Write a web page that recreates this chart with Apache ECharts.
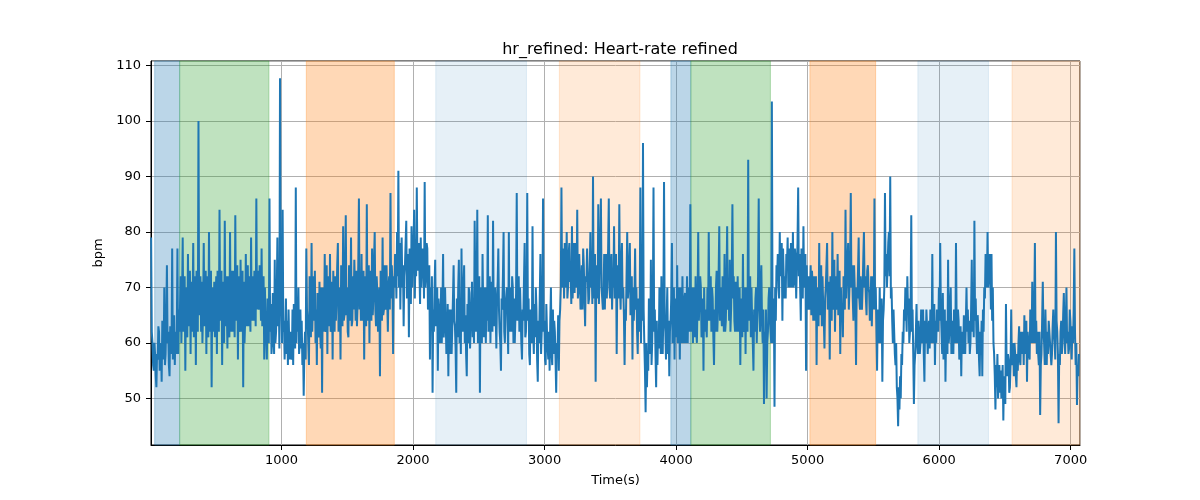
<!DOCTYPE html>
<html>
<head>
<meta charset="utf-8">
<script src="https://cdn.jsdelivr.net/npm/echarts@6/dist/echarts.min.js"></script>
<style>html,body{margin:0;padding:0;background:#fff}#chart{width:1200px;height:500px}</style>
</head>
<body>
<div id="chart"></div>
<script>
// ---- data ----
const titleText = 'hr_refined: Heart-rate refined';
const xAxisLabel = 'Time(s)';
const yAxisLabel = 'bpm';
const startTime = 8;     // seconds of first sample
const stepSeconds = 5;   // sampling step of the values below
const hrValues = [
  // 8 .. 888 s
  79,62,60,56, 55,60,58,54, 52,58,57,63, 62,55,56,60, 53,64,61,57, 70,56,58,64, 74,60,62,56, 54,63,60,58, 77,57,63,65, 56,62,58,61,
  77,58,66,62, 62,72,60,68, 79,62,67,72, 55,70,64,61, 76,63,69,73, 58,71,62,66, 78,61,66,72, 56,73,70,62, 100,65,68,72, 62,71,60,66,
  78,63,70,73, 58,72,64,61, 80,62,66,73, 52,70,62,65, 71,61,67,72, 58,73,65,62, 84,64,70,73, 56,71,63,60, 82,63,72,67, 59,72,64,61,
  80,62,70,73, 62,73,66,61, 83,64,71,74, 57,72,63,62, 75,62,68,73, 52,71,60,64, 76,63,70,74, 63,72,67,62, 79,64,72,70, 64,73,69,63,
  86,66,73,70, 66,74,70,64, 77,63,68,72, 57,70,64,61,
  // 888 .. 1808 s
  57,68,66,60, 86,62,67,58, 60,69,64,58, 75,60,62,68, 79,63,70,59, 107.7,68,66,60, 84,62,64,57, 62,68,58,64, 56,66,60,57, 62,58,57,66,
  56,67,64,59, 88,60,68,62, 70,58,60,66, 59,64,56,60, 50.5,58,62,57, 77,66,64,60, 56,72,66,61, 78,62,62,72, 64,73,60,66, 56,69,65,61,
  71,62,59,70, 51,70,64,62, 76,63,62,74, 58,72,67,63, 76,62,63,71, 57,73,66,62, 72,64,68,74, 78,62,64,70, 57,74,69,63, 81,64,65,73,
  83,65,70,62, 61,74,68,64, 79,63,64,72, 66,75,70,64, 73,63,67,74, 86,66,72,64, 76,64,66,73, 57,72,70,63, 85,64,65,74, 60,73,71,64,
  77,65,68,75, 80,66,63,72, 69,62,62,70, 54,73,70,64, 79,65,66,74, 70,66,74,68,
  // 1808 .. 2728 s
  62,70,72,66, 87,68,74,70, 58,72,70,76, 74,68,80,72, 91,70,78,66, 75,79,70,74, 63,72,74,78, 82,68,68,76, 61,77,75,67, 81,70,70,78,
  84,68,76,72, 88,73,74,78, 73,67,79,70, 70,77,76,68, 89,70,72,78, 77,66,68,74, 57,70,64,72, 51,66,62,70, 75,63,63,70, 55,68,66,60,
  62,70,60,66, 76,61,64,70, 70,58,59,67, 54,66,62,58, 66,58,58,68, 74,64,63,59, 51,68,61,70, 75,60,66,58, 77,64,62,70, 74,60,65,58,
  54,67,60,70, 69,59,63,66, 71,61,66,60, 82,70,62,68, 84,60,68,72, 51,70,64,60, 76,66,61,70, 65,60,70,64, 83,62,66,72, 60,70,71,62,
  82,64,63,70, 65,59,68,71, 77,66,62,60, 55,68,66,72, 80,62,60,67, 67,70,64,58,
  // 2728 .. 3628 s
  80,62,66,70, 62,72,70,60, 68,60,60,69, 87,64,66,72, 62,70,70,60, 57,66,64,71, 78,61,62,68, 87,64,68,58, 56,66,65,60, 81,62,58,67,
  61,70,66,57, 53,64,60,68, 76,58,58,66, 86,62,64,57, 56,67,62,59, 57,62,55,64, 70,58,56,66, 58,64,62,57, 51,60,58,65, 55,64,66,70,
  88,70,72,77, 68,78,76,70, 80,68,70,76, 78,71,72,67, 81,68,74,78, 69,77,78,70, 84,68,70,76, 72,66,68,74, 66,77,74,68, 63,72,71,77,
  77,67,68,73, 80,70,73,67, 90,68,70,76, 53,74,72,68, 85,67,74,78, 86,70,70,66, 69,76,66,72, 76,68,72,77, 86,70,68,74, 76,66,73,70,
  81,68,70,76, 58,72,74,68, 85,70,66,74, 78,68,70,65, 56,66,64,72,
  // 3628 .. 4528 s
  80,68,70,74, 78,65,66,72, 57,70,64,68, 77,66,70,62, 58,68,62,66, 88,60,72,64, 96,66,60,55, 47.5,60,52,58, 55,68,64,58, 75,56,60,67,
  88,62,66,58, 52,64,56,62, 59,70,66,58, 72,60,58,66, 89,64,62,57, 65,70,58,64, 54,62,64,68, 78,60,62,70, 57,68,66,61, 74,60,61,70,
  57,70,64,60, 72,62,60,68, 69,60,64,72, 60,70,66,62, 85,64,62,70, 60,70,66,61, 72,62,60,68, 80,64,68,72, 70,61,63,68, 55,70,62,66,
  66,61,70,64, 80,66,64,72, 62,70,68,61, 56,66,62,70, 73,62,66,72, 81,64,70,66, 63,72,68,62, 76,62,64,71, 81,66,70,64, 75,62,66,72,
  85,68,72,64, 62,71,66,62, 72,64,62,70, 56,68,66,61, 76,62,63,70,
  // 4528 .. 5428 s
  58,70,66,62, 93,64,70,72, 61,70,64,60, 55,66,62,68, 70,60,66,72, 86,66,62,70, 74,64,60,66, 49,62,58,66, 50,60,62,68, 70,64,64,60,
  103.5,66,60,68, 48.5,70,64,74, 72,76,70,68, 80,72,74,78, 64,77,72,68, 72,68,76,74, 79,70,73,77, 70,78,76,70, 80,70,71,77, 75,68,74,78,
  88,72,76,70, 64,77,72,68, 81,70,70,76, 55,74,66,70, 72,66,68,74, 65,73,70,64, 72,64,64,72, 56,70,68,63, 78,65,70,74, 63,72,67,64,
  59,68,70,74, 78,66,66,71, 57,72,68,64, 80,66,70,75, 62,72,66,68, 76,65,69,73, 58,70,64,67, 61,72,70,66, 84,68,72,75, 78,66,70,74,
  87,70,74,68, 64,74,70,66, 56,70,68,73, 79,68,66,72, 72,66,70,75,
  // 5428 .. 6308 s
  80,70,72,68, 65,73,74,70, 69,64,66,72, 63,70,72,66, 86,66,70,62, 55,66,64,60, 70,60,62,68, 53,64,66,70, 87,72,76,70, 74,78,80,72,
  90,68,70,64, 60,66,66,58, 56,60,52,50, 45,52,48,54, 50,58,56,62, 60,66,64,70, 66,62,72,66, 68,60,62,67, 83,62,66,58, 49,56,58,62,
  67,60,58,64, 64,58,60,66, 60,62,66,58, 53,64,60,66, 63,58,58,64, 59,66,65,60, 76,60,62,67, 56,64,60,66, 65,62,70,64, 78,66,62,58,
  69,57,60,66, 53,62,64,58, 75,60,62,67, 70,58,64,61, 58,66,66,60, 78,64,60,66, 64,57,58,63, 54,62,62,58, 65,60,58,64, 70,62,66,60,
  64,58,60,66, 75,62,66,61, 82,64,68,62, 58,65,62,57, 54,62,58,64,
  // 6328 .. 7068 s
  54,66,62,70, 68,76,74,70, 80,70,72,76, 74,66,76,64, 70,60,58,54, 48,56,52,58, 50,54,56,51, 55,50,50,56, 46,54,52,49, 67,56,54,58,
  57,51,52,56, 66,56,56,60, 54,60,58,54, 52,58,55,60, 63,57,56,62, 58,60,62,56, 65,58,58,64, 53,62,62,58, 57,66,64,60, 71,62,60,66,
  78,60,64,58, 62,58,56,62, 47,56,58,64, 71,62,60,56, 66,60,56,62, 58,64,64,60, 60,56,58,63, 66,62,60,57, 80,64,62,58, 45.5,58,56,62,
  64,58,60,65, 69,62,58,64, 70,60,62,58, 59,66,64,60, 57,63,60,66, 77,62,56,60, 48.8,56,54,58, 58
];
// shaded segments (seconds) and their kind
const bandStarts = [35, 225, 1188, 2172, 3112, 3960, 4112, 5017, 5838, 6554];
const bandEnds   = [225, 904, 1857, 2862, 3725, 4112, 4717, 5517, 6375, 7071];
const bandKinds  = [0, 1, 2, 3, 4, 0, 1, 2, 3, 4];
const xRange = [7, 7071];
const yRange = [41.6, 110.8];

// ---- styles ----
const kindColors = [
  'rgba(31,119,180,0.3)',
  'rgba(44,160,44,0.3)',
  'rgba(255,127,14,0.3)',
  'rgba(31,119,180,0.11)',
  'rgba(255,127,14,0.16)'
];
const FONT = 'DejaVu Sans';

const seriesData = hrValues.map((v, i) => [startTime + i * stepSeconds, v]);
const areas = bandStarts.map((s, i) => [
  { xAxis: s, itemStyle: { color: kindColors[bandKinds[i]], borderColor: kindColors[bandKinds[i]], borderWidth: 1 } },
  { xAxis: bandEnds[i] }
]);

const chart = echarts.init(document.getElementById('chart'), null, { renderer: 'canvas' });
chart.setOption({
  animation: false,
  backgroundColor: '#fff',
  title: {
    text: titleText,
    left: 615, top: 37, textAlign: 'center',
    textStyle: { fontFamily: FONT, fontSize: 16, fontWeight: 'normal', color: '#000' }
  },
  grid: {
    left: 151, right: 120, top: 61, bottom: 55,
    show: true, borderColor: '#000', borderWidth: 1, backgroundColor: 'transparent'
  },
  xAxis: {
    type: 'value', min: xRange[0], max: xRange[1],
    minInterval: 1000, maxInterval: 1000,
    name: xAxisLabel, nameLocation: 'middle', nameGap: 29,
    nameTextStyle: { fontFamily: FONT, fontSize: 13, color: '#000' },
    axisLine: { show: true, onZero: false, lineStyle: { color: '#000', width: 1 } },
    axisTick: { show: true, inside: false, length: 5, lineStyle: { color: '#000' } },
    axisLabel: { show: true, margin: 9, showMinLabel: false, showMaxLabel: false,
      formatter: v => String(v),
      fontFamily: FONT, fontSize: 13, color: '#000' },
    splitLine: { show: true, lineStyle: { color: '#b0b0b0', width: 1 } }
  },
  yAxis: {
    type: 'value', min: yRange[0], max: yRange[1],
    minInterval: 10, maxInterval: 10,
    name: yAxisLabel, nameLocation: 'middle', nameGap: 41,
    nameTextStyle: { fontFamily: FONT, fontSize: 13, color: '#000' },
    axisLine: { show: true, onZero: false, lineStyle: { color: '#000', width: 1 } },
    axisTick: { show: true, inside: false, length: 5, lineStyle: { color: '#000' } },
    axisLabel: { show: true, margin: 10, showMinLabel: false, showMaxLabel: false,
      formatter: v => String(v),
      fontFamily: FONT, fontSize: 13, color: '#000' },
    splitLine: { show: true, lineStyle: { color: '#b0b0b0', width: 1 } }
  },
  series: [{
    type: 'line',
    data: seriesData,
    showSymbol: false,
    symbol: 'none',
    lineStyle: { color: '#1f77b4', width: 2 },
    itemStyle: { color: '#1f77b4' },
    z: 3,
    markArea: { silent: true, data: areas }
  }]
});
</script>
</body>
</html>
